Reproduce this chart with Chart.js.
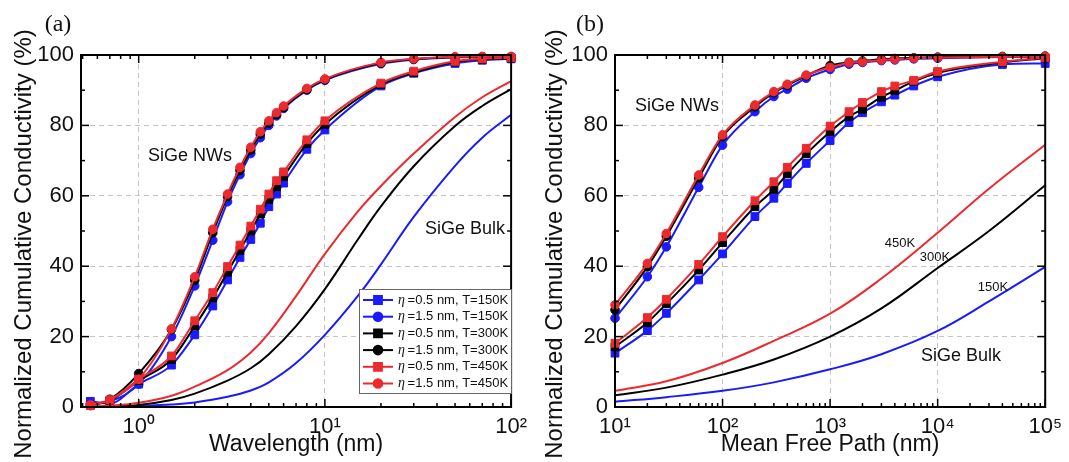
<!DOCTYPE html>
<html>
<head>
<meta charset="utf-8">
<script src="https://cdn.jsdelivr.net/npm/chart.js@4/dist/chart.umd.min.js"></script>
<style>
html,body{margin:0;padding:0;background:#fff;}
#wrap{position:relative;width:1069px;height:462px;}
canvas{position:absolute;top:0;}
#chartA{left:0;}
#chartB{left:534px;}
</style>
</head>
<body>
<div id="wrap">
<canvas id="chartA" width="534" height="462"></canvas>
<canvas id="chartB" width="535" height="462"></canvas>
</div>
<script>
// ---- panel (a): wavelength ----
let wlX = [0.55, 0.7, 1, 1.5, 2, 2.5, 3, 3.5, 4, 4.5, 5, 5.5, 6, 8, 10, 20, 30, 50, 70, 100]
let wlSq150 = [1.6, 1.0, 6.5, 11.9, 20.5, 28.7, 36.1, 42.5, 47.6, 52.2, 56.9, 60.5, 63.6, 73.2, 78.7, 91.2, 94.8, 97.6, 98.5, 98.9]
let wlCi150 = [1.0, 1.6, 6.5, 20.0, 34.4, 47.4, 58.3, 66.0, 72.0, 76.5, 80.0, 82.7, 84.8, 90.0, 92.8, 97.5, 98.7, 99.3, 99.4, 99.4]
let wlSq300 = [0.5, 1.8, 7.5, 13.5, 23.0, 31.0, 38.3, 44.5, 50.0, 54.8, 59.0, 62.6, 65.5, 74.8, 80.3, 91.6, 95.0, 98.0, 98.8, 99.1]
let wlCi300 = [0.4, 2.2, 9.5, 22.0, 36.0, 49.5, 59.8, 67.2, 73.0, 77.5, 80.7, 83.1, 85.1, 90.2, 93.0, 97.7, 98.8, 99.4, 99.5, 99.5]
let wlSq450 = [0.4, 2.0, 7.9, 14.5, 24.5, 32.5, 39.9, 46.0, 51.4, 56.2, 60.5, 64.3, 66.8, 75.9, 81.3, 92.0, 95.4, 98.2, 98.9, 99.2]
let wlCi450 = [0.6, 2.0, 7.9, 22.2, 37.0, 50.5, 60.5, 68.1, 73.8, 78.2, 81.3, 83.6, 85.5, 90.5, 93.2, 97.9, 98.9, 99.5, 99.6, 99.6]
let wlBulkX = [0.55, 0.7, 1, 1.5, 2, 3, 4, 5, 7, 10, 15, 20, 30, 50, 70, 100]
let wlBulk150 = [0, 0.05, 0.3, 0.7, 1.3, 2.9, 4.7, 7, 12.5, 20.5, 31.5, 40.5, 54, 68.5, 76.5, 83]
let wlBulk300 = [0.05, 0.2, 0.6, 2, 3.8, 7.5, 11, 15, 23, 33.5, 47.5, 57, 68.4, 79.8, 85.5, 90.3]
let wlBulk450 = [0.1, 0.35, 1.2, 3.2, 5.8, 10.5, 15.5, 21, 31.5, 43.5, 55.5, 62.8, 72, 82.4, 88, 92.6]
let wlTicks = [1, 10, 100]

// ---- panel (b): mean free path ----
let mfpX = [10, 20, 30, 60, 100, 200, 300, 400, 600, 1000, 1500, 2000, 3000, 4000, 6000, 10000, 40000, 100000]
let mfpSq150 = [15.3, 21.7, 26.6, 36.1, 43.5, 54.1, 59.3, 63.5, 69.2, 75.7, 80.8, 83.6, 86.7, 88.6, 91.2, 93.8, 97.3, 97.6]
let mfpCi150 = [25.2, 37.0, 45.5, 62.4, 74.4, 83.9, 88.2, 90.3, 93.4, 95.9, 97.4, 97.9, 98.4, 98.6, 98.9, 99.1, 99.4, 99.5]
let mfpSq300 = [17.1, 24.0, 29.3, 38.9, 46.7, 56.9, 61.8, 66.2, 71.9, 78.2, 82.5, 84.6, 88.0, 89.9, 92.5, 94.9, 97.9, 99.1]
let mfpCi300 = [27.6, 39.8, 48.5, 65.0, 76.8, 85.3, 89.3, 91.4, 94.1, 97.0, 97.9, 98.3, 98.8, 99.0, 99.2, 99.4, 99.6, 99.7]
let mfpSq450 = [18.1, 25.4, 30.6, 40.5, 48.4, 58.6, 64.0, 68.1, 73.5, 79.8, 83.9, 86.5, 89.6, 91.2, 92.8, 95.3, 98.1, 99.2]
let mfpCi450 = [29.0, 40.8, 49.3, 65.9, 77.3, 85.8, 89.6, 91.7, 94.3, 96.5, 97.8, 98.1, 98.6, 98.8, 99.1, 99.3, 99.5, 99.6]
let mfpBulkX = [10, 30, 100, 300, 1000, 3000, 10000, 30000, 100000]
let mfpBulk150 = [1.5, 2.8, 4.6, 7, 10.7, 15, 21.6, 30, 39.8]
let mfpBulk300 = [3.3, 5.5, 9.2, 13.5, 20, 28, 39.5, 50, 63]
let mfpBulk450 = [4.6, 7.3, 12.5, 18.8, 26.5, 36.5, 49.5, 62, 74.5]
let mfpTicks = [10, 100, 1000, 10000, 100000]

let seriesLabels = ["η =0.5 nm, T=150K", "η =1.5 nm, T=150K", "η =0.5 nm, T=300K",
  "η =1.5 nm, T=300K", "η =0.5 nm, T=450K", "η =1.5 nm, T=450K"]

const BLUE = "#1a1aff"
const BLACK = "#000000"
const RED = "#ec2a2e"
const SANS = "'Liberation Sans', Arial, sans-serif"
const sup = {"0":"⁰","1":"¹","2":"²","3":"³","4":"⁴","5":"⁵"}

function pts(xs, ys){
  return xs.map((x,i)=>({x:x, y:ys[i]}))
}

function nwSet(label, xs, ys, color, style, order){
  return {
    label: label,
    data: pts(xs, ys),
    borderColor: color,
    backgroundColor: color,
    borderWidth: 2,
    pointStyle: style,
    pointRadius: style=="rect" ? 5.5 : 4.3,
    pointBorderWidth: 1,
    pointBorderColor: color,
    pointBackgroundColor: color,
    cubicInterpolationMode: "monotone",
    order: order,
    clip: false
  }
}

// smooth bulk curves, no markers
function bulkSet(label, xs, ys, color, order){
  return {
    label: label,
    data: pts(xs, ys),
    borderColor: color,
    backgroundColor: color,
    borderWidth: 2,
    pointRadius: 0,
    tension: 0.4,
    order: order,
    clip: false
  }
}

// box, inward tick marks on all four sides
const frame = {
  id: "frame",
  afterDraw(chart){
    const {ctx, chartArea:a, scales:{x, y}} = chart
    ctx.save()
    ctx.strokeStyle = "#000"
    ctx.lineWidth = 1.5
    function seg(x1,y1,x2,y2){ ctx.beginPath(); ctx.moveTo(x1,y1); ctx.lineTo(x2,y2); ctx.stroke() }
    for(let v=0; v<=100; v+=10){
      let py = y.getPixelForValue(v)
      let len = v%20==0 ? 8 : 4
      seg(a.left, py, a.left+len, py)
      seg(a.right, py, a.right-len, py)
    }
    let d0 = Math.floor(Math.log10(x.min)), d1 = Math.ceil(Math.log10(x.max))
    for(let d=d0; d<=d1; d++){
      for(let m=1; m<10; m++){
        let v = m*Math.pow(10,d)
        if(v < x.min*0.999 || v > x.max*1.001) continue
        let px = x.getPixelForValue(v)
        let len = m==1 ? 8 : 4
        seg(px, a.bottom, px, a.bottom-len)
        seg(px, a.top, px, a.top+len)
      }
    }
    ctx.lineWidth = 2
    ctx.strokeRect(a.left, a.top, a.right-a.left, a.bottom-a.top)
    ctx.restore()
  }
}

// free texts: panel letter, rotated y title, annotations
const notes = {
  id: "notes",
  afterDraw(chart, args, opts){
    const ctx = chart.ctx
    ctx.save()
    ctx.fillStyle = "#111"
    ctx.textBaseline = "middle"
    ctx.textAlign = "center"
    for(const t of opts.items){
      ctx.font = t.font
      ctx.save()
      ctx.translate(t.x, t.y)
      if(t.rot) ctx.rotate(t.rot)
      ctx.fillText(t.text, 0, 0)
      ctx.restore()
    }
    ctx.restore()
  }
}

// legend box inside the plot area
const boxLegend = {
  id: "boxLegend",
  afterDraw(chart, args, opts){
    if(!opts.show) return
    const ctx = chart.ctx
    const sets = chart.data.datasets.filter(d => d.pointRadius > 0)
    ctx.save()
    ctx.fillStyle = "#fff"
    ctx.fillRect(opts.x, opts.y, opts.w, opts.h)
    ctx.strokeStyle = "#666"
    ctx.lineWidth = 1
    ctx.strokeRect(opts.x+0.5, opts.y+0.5, opts.w, opts.h)
    sets.forEach((d,i)=>{
      let cy = opts.y + 11 + i*16.7
      ctx.strokeStyle = d.borderColor
      ctx.lineWidth = 2
      ctx.beginPath(); ctx.moveTo(opts.x+4, cy); ctx.lineTo(opts.x+34, cy); ctx.stroke()
      ctx.fillStyle = d.backgroundColor
      Chart.helpers.drawPoint(ctx, {pointStyle:d.pointStyle, radius:d.pointRadius, borderWidth:1, rotation:0}, opts.x+19, cy)
      ctx.fillStyle = "#111"
      ctx.textBaseline = "middle"
      ctx.textAlign = "left"
      ctx.font = "italic 14px 'Liberation Serif', 'Times New Roman', serif"
      ctx.fillText(d.label.charAt(0), opts.x+39, cy)
      ctx.font = "13px " + SANS
      ctx.fillText(d.label.slice(1), opts.x+45, cy)
    })
    ctx.restore()
  }
}

function makeChart(id, xMin, xMax, xTicks, xTitle, datasets, items, legend){
  return new Chart(document.getElementById(id), {
    type: "line",
    data: {datasets: datasets},
    options: {
      responsive: false,
      animation: false,
      layout: {padding: {left: 0, right: id=="chartA" ? 17 : 18, top: 55, bottom: 0}},
      plugins: {
        legend: {display: false},
        tooltip: {enabled: false},
        notes: {items: items},
        boxLegend: legend
      },
      scales: {
        x: {
          type: "logarithmic",
          min: xMin,
          max: xMax,
          afterBuildTicks: s => { s.ticks = xTicks.map(v => ({value: v})) },
          afterFit: s => { s.height = 55 },
          grid: {color: "#c4c4c4", lineWidth: 1, drawTicks: false},
          border: {display: false, dash: [5, 4]},
          ticks: {
            color: "#111",
            padding: 7,
            maxRotation: 0,
            font: {family: SANS, size: 22},
            callback: v => "10" + String(Math.round(Math.log10(v))).split("").map(c => sup[c]).join("")
          },
          title: {display: true, text: xTitle, color: "#111", font: {family: SANS, size: 23}, padding: {top: 0, bottom: 4}}
        },
        y: {
          min: 0,
          max: 100,
          afterFit: s => { s.width = 81 },
          grid: {color: "#c4c4c4", lineWidth: 1, drawTicks: false},
          border: {display: false, dash: [5, 4]},
          ticks: {stepSize: 20, color: "#111", padding: 7, font: {family: SANS, size: 22}}
        }
      }
    },
    plugins: [frame, notes, boxLegend]
  })
}

const yTitle = "Normalized Cumulative Conductivity (%)"

makeChart("chartA", 0.49, 100, wlTicks, "Wavelength (nm)", [
  nwSet(seriesLabels[0], wlX, wlSq150, BLUE, "rect", 3),
  nwSet(seriesLabels[1], wlX, wlCi150, BLUE, "circle", 3),
  nwSet(seriesLabels[2], wlX, wlSq300, BLACK, "rect", 2),
  nwSet(seriesLabels[3], wlX, wlCi300, BLACK, "circle", 2),
  nwSet(seriesLabels[4], wlX, wlSq450, RED, "rect", 1),
  nwSet(seriesLabels[5], wlX, wlCi450, RED, "circle", 1),
  bulkSet("Bulk 150K", wlBulkX, wlBulk150, BLUE, 3),
  bulkSet("Bulk 300K", wlBulkX, wlBulk300, BLACK, 2),
  bulkSet("Bulk 450K", wlBulkX, wlBulk450, RED, 1)
], [
  {text: "(a)", x: 58, y: 25, font: "24px 'Liberation Serif', 'Times New Roman', serif"},
  {text: yTitle, x: 24, y: 244, rot: -Math.PI/2, font: "24px " + SANS},
  {text: "SiGe NWs", x: 190, y: 156, font: "18px " + SANS},
  {text: "SiGe Bulk", x: 465, y: 229, font: "18px " + SANS}
], {show: true, x: 359, y: 289, w: 152, h: 104})

makeChart("chartB", 10, 100000, mfpTicks, "Mean Free Path (nm)", [
  nwSet(seriesLabels[0], mfpX, mfpSq150, BLUE, "rect", 3),
  nwSet(seriesLabels[1], mfpX, mfpCi150, BLUE, "circle", 3),
  nwSet(seriesLabels[2], mfpX, mfpSq300, BLACK, "rect", 2),
  nwSet(seriesLabels[3], mfpX, mfpCi300, BLACK, "circle", 2),
  nwSet(seriesLabels[4], mfpX, mfpSq450, RED, "rect", 1),
  nwSet(seriesLabels[5], mfpX, mfpCi450, RED, "circle", 1),
  bulkSet("Bulk 150K", mfpBulkX, mfpBulk150, BLUE, 3),
  bulkSet("Bulk 300K", mfpBulkX, mfpBulk300, BLACK, 2),
  bulkSet("Bulk 450K", mfpBulkX, mfpBulk450, RED, 1)
], [
  {text: "(b)", x: 56, y: 25, font: "24px 'Liberation Serif', 'Times New Roman', serif"},
  {text: yTitle, x: 21, y: 244, rot: -Math.PI/2, font: "24px " + SANS},
  {text: "SiGe NWs", x: 143, y: 106, font: "18px " + SANS},
  {text: "SiGe Bulk", x: 427, y: 356, font: "18px " + SANS},
  {text: "450K", x: 366, y: 243, font: "13px " + SANS},
  {text: "300K", x: 401, y: 257, font: "13px " + SANS},
  {text: "150K", x: 459, y: 287, font: "13px " + SANS}
], {show: false})
</script>
</body>
</html>
